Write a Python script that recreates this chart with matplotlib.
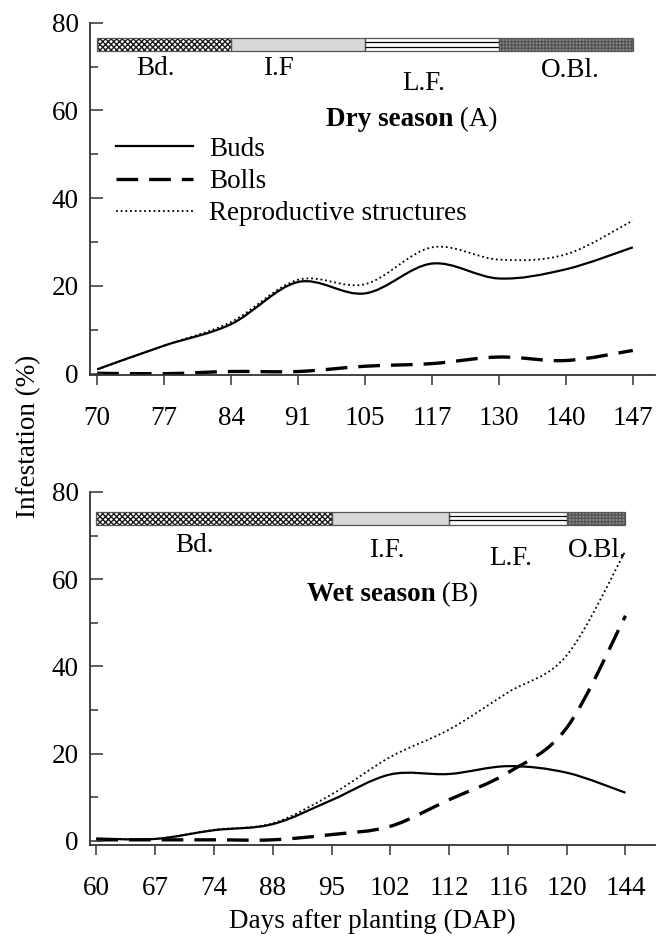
import matplotlib
matplotlib.use("Agg")
import matplotlib.pyplot as plt
from matplotlib.path import Path
from matplotlib.patches import PathPatch
from matplotlib.lines import Line2D
from matplotlib.ticker import MultipleLocator

plt.rcParams['font.family'] = 'serif'
plt.rcParams['font.serif'] = ['Liberation Serif', 'DejaVu Serif']
plt.rcParams['font.size'] = 19.5
plt.rcParams['hatch.linewidth'] = 1.0

# Dry season sampling dates (DAP) and infestation (%)
dry_dap = ['70', '77', '84', '91', '105', '117', '130', '140', '147']
dry_buds = [1.0, 6.4, 11.3, 20.9, 18.3, 25.1, 21.7, 23.8, 28.8]
dry_bolls = [0.1, 0.0, 0.5, 0.5, 1.7, 2.3, 3.8, 3.0, 5.3]
dry_repro = [1.0, 6.4, 11.8, 21.4, 20.4, 28.8, 26.0, 27.2, 34.9]

# Wet season
wet_dap = ['60', '67', '74', '88', '95', '102', '112', '116', '120', '144']
wet_buds = [0.5, 0.4, 2.4, 3.8, 9.3, 15.2, 15.3, 17.1, 15.6, 11.0]
wet_bolls = [0.2, 0.2, 0.2, 0.2, 1.4, 3.3, 9.4, 15.6, 25.9, 51.6]
wet_repro = [0.5, 0.4, 2.5, 4.0, 10.6, 19.2, 25.5, 34.0, 42.5, 66.5]

# Crop stages, boundaries given as sampling-date index
dry_stages = ['Bd.', 'I.F', 'L.F.', 'O.Bl.']
dry_stage_edges = [0, 2, 4, 6, 8]
wet_stages = ['Bd.', 'I.F.', 'L.F.', 'O.Bl.']
wet_stage_edges = [0, 4, 6, 8, 9]

series_labels = ['Buds', 'Bolls', 'Reproductive structures']

# stage label placement (x index, baseline y)
dry_stage_text = [(0.87, 68.1), (2.7, 68.1), (4.88, 64.7), (7.07, 67.7)]
wet_stage_text = [(1.67, 66.2), (4.94, 65.0), (7.04, 63.3), (8.52, 65.0)]

styles = [
    dict(color='black', lw=1.6, ls='-'),
    dict(color='black', lw=2.4, ls=(0, (6.5, 3.3))),
    dict(color='black', lw=1.3, ls=(0, (1, 1.6))),
]

stage_fill = [
    dict(facecolor='white', hatch='xxxxxx', edgecolor='#1a1a1a'),
    dict(facecolor='#d8d8d8', hatch='', edgecolor='#d8d8d8'),
    dict(facecolor='white', hatch='', edgecolor='white'),
    dict(facecolor='#8c8c8c', hatch='+++++', edgecolor='#555555'),
]


def smooth_line(ax, y, **kw):
    # smoothed line through the points, cubic bezier segments
    x = list(range(len(y)))
    n = len(x)
    verts = [(x[0], y[0])]
    codes = [Path.MOVETO]
    for i in range(n - 1):
        a = i - 1 if i > 0 else i
        b = i + 2 if i + 2 < n else i + 1
        c1 = (x[i] + (x[i + 1] - x[a]) / 6.0, y[i] + (y[i + 1] - y[a]) / 6.0)
        c2 = (x[i + 1] - (x[b] - x[i]) / 6.0, y[i + 1] - (y[b] - y[i]) / 6.0)
        verts += [c1, c2, (x[i + 1], y[i + 1])]
        codes += [Path.CURVE4] * 3
    patch = PathPatch(Path(verts, codes), fill=False, capstyle='butt',
                      edgecolor=kw['color'], linewidth=kw['lw'], linestyle=kw['ls'])
    ax.add_patch(patch)


def stage_bar(ax, edges, names, text_pos, y0, h):
    for i, name in enumerate(names):
        left, right = edges[i], edges[i + 1]
        st = stage_fill[i]
        ax.barh(y0 + h / 2, right - left, left=left, height=h,
                facecolor=st['facecolor'], hatch=st['hatch'],
                edgecolor=st['edgecolor'], linewidth=0, zorder=2)
        ax.barh(y0 + h / 2, right - left, left=left, height=h, fill=False,
                edgecolor='#555555', linewidth=0.9, zorder=3)
        if name.startswith('L.F'):
            ax.hlines([y0 + h / 3, y0 + 2 * h / 3], left, right,
                      color='black', lw=0.9, zorder=3)
        tx, ty = text_pos[i]
        ax.text(tx, ty, name, ha='center', va='baseline')


def style_axes(ax, labels, xmax):
    for s in ['top', 'right']:
        ax.spines[s].set_visible(False)
    for s in ['left', 'bottom']:
        ax.spines[s].set_color('#333333')
        ax.spines[s].set_linewidth(1.3)
    ax.set_xticks(range(len(labels)))
    ax.set_xticklabels(labels)
    ax.set_xlim(-0.11, xmax)
    ax.set_yticks([0, 20, 40, 60, 80])
    ax.yaxis.set_minor_locator(MultipleLocator(10))
    ax.tick_params(axis='x', direction='out', length=7, width=1.1,
                   color='#333333', pad=15)
    ax.tick_params(axis='y', which='major', direction='in', length=9,
                   width=1.1, color='#333333', pad=8)
    ax.tick_params(axis='y', which='minor', direction='in', length=6,
                   width=1.1, color='#333333')


def season_title(ax, x, y, bold, tag):
    t = ax.text(x, y, bold, fontweight='bold', ha='left', va='center')
    ax.annotate(' ' + tag, xy=(1, 0.5), xycoords=t, ha='left', va='center')


fig = plt.figure(figsize=(6.56, 9.38), dpi=100)
ax1 = fig.add_axes([0.137, 0.6002, 0.8613, 0.3756])
ax2 = fig.add_axes([0.137, 0.0991, 0.8613, 0.3764])

# Dry season panel
for vals, st in zip([dry_buds, dry_bolls, dry_repro], styles):
    smooth_line(ax1, vals, **st)
style_axes(ax1, dry_dap, 8.33)
ax1.set_ylim(-0.3, 80)
stage_bar(ax1, dry_stage_edges, dry_stages, dry_stage_text, 73.6, 2.9)
season_title(ax1, 3.42, 57.9, 'Dry season', '(A)')

handles = [Line2D([], [], color=s['color'], lw=s['lw'], ls=s['ls']) for s in styles]
ax1.legend(handles, series_labels, loc='upper left', bbox_to_anchor=(0.046, 0.676),
           frameon=False, handlelength=2.85, handletextpad=0.6,
           labelspacing=0.27, borderpad=0, borderaxespad=0)

# Wet season panel
for vals, st in zip([wet_buds, wet_bolls, wet_repro], styles):
    smooth_line(ax2, vals, **st)
style_axes(ax2, wet_dap, 9.5)
ax2.set_ylim(-1, 80)
stage_bar(ax2, wet_stage_edges, wet_stages, wet_stage_text, 72.5, 2.9)
season_title(ax2, 3.58, 56.4, 'Wet season', '(B)')
ax2.set_xlabel('Days after planting (DAP)', labelpad=6)

fig.text(0.043, 0.535, 'Infestation (%)', rotation=90, ha='center', va='center')

fig.savefig('out.png', dpi=100)
